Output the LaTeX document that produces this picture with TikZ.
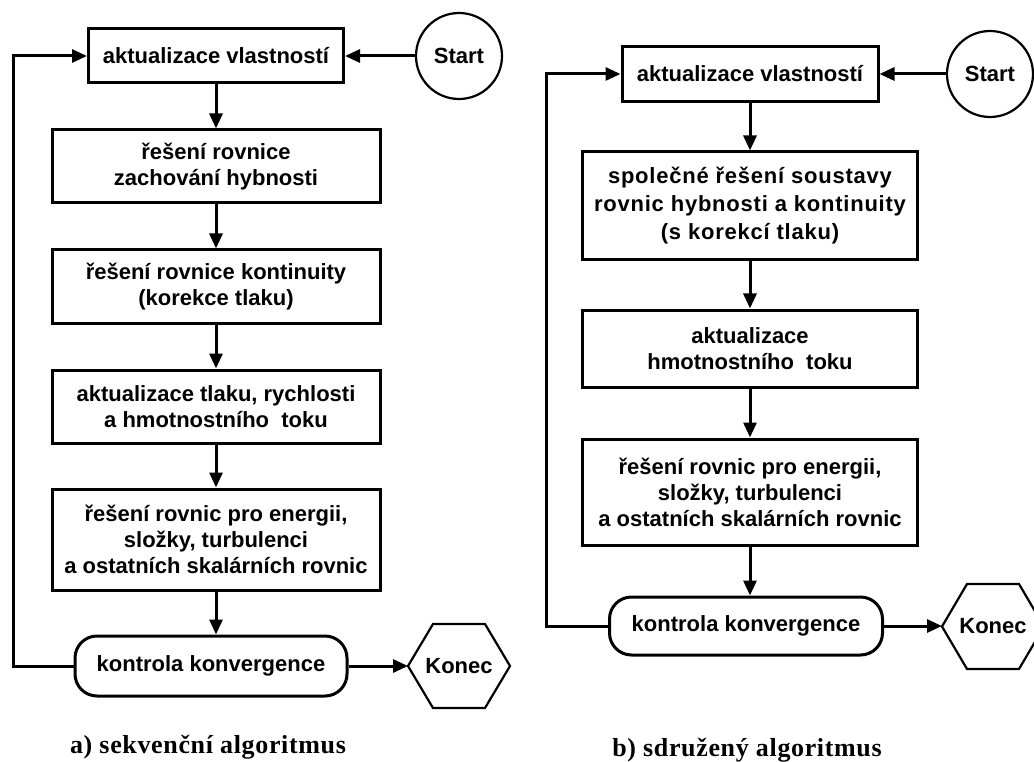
\documentclass[tikz,border=0pt]{standalone}
\usepackage{fontspec}
\setmainfont{Liberation Sans}
\newfontfamily\capfont{Liberation Serif}
\usetikzlibrary{arrows.meta}
\begin{document}
\begin{tikzpicture}[x=1pt,y=-1pt,
  box/.style={draw, line width=3pt, inner sep=0pt, align=center,
    font=\fontsize{22}{26}\bfseries\selectfont},
  term/.style={draw, line width=3pt, inner sep=0pt, align=center, rounded corners=22pt,
    font=\fontsize{22}{26}\bfseries\selectfont},
  startc/.style={circle, draw, line width=2.2pt, inner sep=0pt, minimum size=86pt,
    font=\fontsize{22}{26}\bfseries\selectfont},
  hexlabel/.style={inner sep=0pt, font=\fontsize{22}{26}\bfseries\selectfont},
  hexline/.style={line width=2.2pt, line join=miter},
  arr/.style={line width=3pt, -{Triangle[length=15pt,width=13pt]}},
  captxt/.style={font=\capfont\bfseries\fontsize{26}{30}\selectfont\addfontfeatures{LetterSpace=2.5}}
]
\clip (0,0) rectangle (1034,762);
\fill[white] (0,0) rectangle (1034,762);

% ---------- left: sequential ----------
\node[box, minimum width=255pt, minimum height=54pt] (a1) at (216,56) {aktualizace vlastností};
\node[startc] (s1) at (459,56) {Start};
\node[box, minimum width=328pt, minimum height=73pt] (a2) at (216,166.5) {řešení rovnice\\zachování hybnosti};
\node[box, minimum width=328pt, minimum height=73pt] (a3) at (216,286.5) {řešení rovnice kontinuity\\(korekce tlaku)};
\node[box, minimum width=328pt, minimum height=73pt] (a4) at (216,406.5) {aktualizace tlaku, rychlosti\\a hmotnostního~ toku};
\node[box, minimum width=328pt, minimum height=101pt] (a5) at (216,539.5) {řešení rovnic pro energii,\\složky, turbulenci\\a ostatních skalárních rovnic};
\node[term, minimum width=272pt, minimum height=60pt] (k1) at (211,666) {kontrola konvergence};
\node[hexlabel] (e1) at (459,666) {Konec};
\draw[hexline] ([xshift=-51pt]e1.center) -- ([xshift=-26pt,yshift=42pt]e1.center)
  -- ([xshift=26pt,yshift=42pt]e1.center) -- ([xshift=51pt]e1.center)
  -- ([xshift=26pt,yshift=-42pt]e1.center) -- ([xshift=-26pt,yshift=-42pt]e1.center) -- cycle;
\coordinate (e1w) at ([xshift=-51pt]e1.center);
\coordinate (l1) at (13,0);
\node[captxt] (c1) at (208,747) {a) sekvenční algoritmus};

\draw[arr] (s1) -- (a1);
\draw[arr] (a1) -- (a2);
\draw[arr] (a2) -- (a3);
\draw[arr] (a3) -- (a4);
\draw[arr] (a4) -- (a5);
\draw[arr] (a5.south) -- (a5.south |- k1.north);
\draw[arr] (k1.east) -- (e1w);
\draw[arr] (k1.west) -- (l1 |- k1.west) |- (a1.west);

% ---------- right: coupled ----------
\node[box, minimum width=256pt, minimum height=55pt] (b1) at (750,74) {aktualizace vlastností};
\node[startc] (s2) at (990,74) {Start};
\node[box, minimum width=335pt, minimum height=108pt,
  font=\fontsize{22}{28}\bfseries\selectfont\addfontfeatures{LetterSpace=3.5}] (b2) at (750,206) {společné řešení soustavy\\rovnic hybnosti a kontinuity\\(s korekcí tlaku)};
\node[box, minimum width=335pt, minimum height=77pt] (b3) at (750,348.5) {aktualizace\\hmotnostního~ toku};
\node[box, minimum width=335pt, minimum height=106pt] (b4) at (750,492) {řešení rovnic pro energii,\\složky, turbulenci\\a ostatních skalárních rovnic};
\node[term, minimum width=273pt, minimum height=58pt] (k2) at (746,626) {kontrola konvergence};
\node[hexlabel] (e2) at (993,626.5) {Konec};
\draw[hexline] ([xshift=-51pt]e2.center) -- ([xshift=-26pt,yshift=42.5pt]e2.center)
  -- ([xshift=26pt,yshift=42.5pt]e2.center) -- ([xshift=51pt]e2.center)
  -- ([xshift=26pt,yshift=-42.5pt]e2.center) -- ([xshift=-26pt,yshift=-42.5pt]e2.center) -- cycle;
\coordinate (e2w) at ([xshift=-51pt]e2.center);
\coordinate (l2) at (546,0);
\node[captxt] (c2) at (747,750) {b) sdružený algoritmus};

\draw[arr] (s2) -- (b1);
\draw[arr] (b1) -- (b2);
\draw[arr] (b2) -- (b3);
\draw[arr] (b3) -- (b4);
\draw[arr] (b4.south) -- (b4.south |- k2.north);
\draw[arr] (k2.east) -- (e2w |- k2.east);
\draw[arr] (k2.west) -- (l2 |- k2.west) |- (b1.west);
\end{tikzpicture}
\end{document}
